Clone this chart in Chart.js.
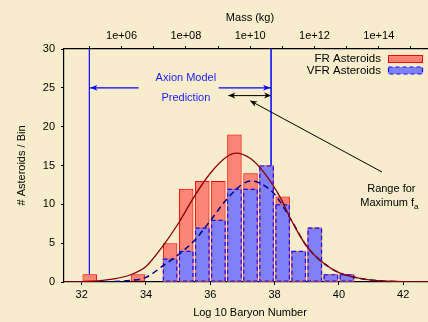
<!DOCTYPE html>
<html>
<head>
<meta charset="utf-8">
<script src="https://cdn.jsdelivr.net/npm/chart.js@4.4.0/dist/chart.umd.min.js"></script>
<style>
  html, body { margin: 0; padding: 0; background: #f7edcc; }
  #wrap { width: 428px; height: 322px; }
</style>
</head>
<body>
<div id="wrap"><canvas id="chart" width="428" height="322"></canvas></div>
<script>
// Histogram, bins of 0.5 in Log10 baryon number (left edges)
const binEdges = [32, 32.5, 33, 33.5, 34, 34.5, 35, 35.5, 36, 36.5, 37, 37.5, 38, 38.5, 39, 39.5, 40];
const frCounts = [1, 0, 0, 1, 0, 5, 12, 13, 13, 19, 14, 15, 11, 4, 7, 1, 1];
const vfrCounts = [0, 0, 0, 0, 0, 3, 4, 7, 8, 12, 12, 15, 10, 4, 7, 1, 1];

// Fitted curves
const frFitX = [31.45, 32, 32.5, 33, 33.5, 34, 34.5, 35, 35.5, 36, 36.5, 36.8, 37.25, 37.65, 38.2, 38.5, 39, 39.5, 40, 40.5, 41, 41.5, 42, 42.77];
const frFitY = [0, 0.05, 0.15, 0.4, 0.9, 2.0, 4.5, 7.5, 11.0, 14.0, 16.1, 16.6, 15.9, 14.2, 10.7, 8.1, 4.6, 2.5, 1.2, 0.6, 0.25, 0.1, 0.03, 0];
const vfrFitX = [31.45, 32, 32.5, 33, 33.5, 34, 34.5, 35, 35.5, 36, 36.5, 37, 37.25, 37.5, 38, 38.5, 39, 39.5, 40, 40.5, 41, 41.5, 42, 42.77];
const vfrFitY = [0, 0, 0.01, 0.05, 0.2, 0.6, 2.0, 3.5, 5.3, 7.9, 10.6, 12.6, 13.0, 12.8, 11.3, 8.1, 4.6, 2.5, 1.2, 0.6, 0.25, 0.1, 0.03, 0.01];

// Axion model prediction lines and annotations (data units)
const axionLinesX = [32.24, 37.89];
const axionLinesBottom = [1, 15];
const axionArrowY = 25;
const axionArrowStart = [33.77, 36.26];
const rangeArrowY = 24;
const rangeArrowX = [36.56, 37.89];
const pointerFrom = [41.34, 14.16];
const pointerTo = [37.24, 23.34];

// Axes
const xMin = 31.45, xMax = 42.77;
const massOffset = 27.24; // log10 mass(kg) = log10 N - offset
const yTicks = [0, 30, 5];

const labels = ['FR Asteroids', 'VFR Asteroids'];
const FONT = "'Liberation Sans', Arial, sans-serif";

const binWidth = 0.5;
const frData = binEdges.map((e, i) => ({ x: e + binWidth / 2, y: frCounts[i] }));
const vfrData = binEdges.map((e, i) => ({ x: e + binWidth / 2, y: vfrCounts[i] }));

function drawArrowHead(ctx, x1, y1, x2, y2, color) {
    // head at (x2, y2)
    const a = Math.atan2(y2 - y1, x2 - x1);
    const len = 7, w = 3;
    ctx.save();
    ctx.translate(x2, y2);
    ctx.rotate(a);
    ctx.fillStyle = color;
    ctx.beginPath();
    ctx.moveTo(0, 0);
    ctx.lineTo(-len, -w);
    ctx.lineTo(-len + 2, 0);
    ctx.lineTo(-len, w);
    ctx.closePath();
    ctx.fill();
    ctx.restore();
}

function line(ctx, x1, y1, x2, y2, color, width) {
    ctx.save();
    ctx.strokeStyle = color;
    ctx.lineWidth = width;
    ctx.beginPath();
    ctx.moveTo(x1, y1);
    ctx.lineTo(x2, y2);
    ctx.stroke();
    ctx.restore();
}

// dashed outline for the VFR bars (Chart.js bars have no dashed borders)
const dashedBars = {
    id: 'dashedBars',
    afterDatasetDraw(chart, args) {
        if (args.index !== 1) return;
        const ctx = chart.ctx;
        ctx.save();
        args.meta.data.forEach((el, i) => {
            if (!vfrCounts[i]) return;
            const p = el.getProps(['x', 'y', 'base', 'width'], true);
            const r = [p.x - p.width / 2 + 0.5, p.y + 0.5, p.width - 1, p.base - p.y - 1];
            // red outline of the FR bar underneath shows in the gaps
            ctx.setLineDash([]);
            ctx.strokeStyle = 'rgba(255, 90, 60, 0.8)';
            ctx.lineWidth = 1;
            ctx.strokeRect(r[0], r[1], r[2], r[3]);
            ctx.setLineDash([4, 3]);
            ctx.strokeStyle = '#1010ff';
            ctx.lineWidth = 1.2;
            ctx.strokeRect(r[0], r[1], r[2], r[3]);
        });
        ctx.restore();
    }
};

const annotations = {
    id: 'annotations',
    afterDraw(chart) {
        const ctx = chart.ctx;
        const sx = chart.scales.x, sy = chart.scales.y;
        const px = v => sx.getPixelForValue(v);
        const py = v => sy.getPixelForValue(v);

        // blue arrows towards the prediction lines
        const ay = py(axionArrowY);
        line(ctx, px(axionArrowStart[0]), ay, px(axionLinesX[0]), ay, '#0000ff', 1.2);
        drawArrowHead(ctx, px(axionArrowStart[0]), ay, px(axionLinesX[0]) + 1, ay, '#0000ff');
        line(ctx, px(axionArrowStart[1]), ay, px(axionLinesX[1]), ay, '#0000ff', 1.2);
        drawArrowHead(ctx, px(axionArrowStart[1]), ay, px(axionLinesX[1]) - 1, ay, '#0000ff');

        // black double arrow
        const ry = py(rangeArrowY);
        line(ctx, px(rangeArrowX[0]), ry, px(rangeArrowX[1]), ry, '#000', 1);
        drawArrowHead(ctx, px(rangeArrowX[1]), ry, px(rangeArrowX[0]), ry, '#000');
        drawArrowHead(ctx, px(rangeArrowX[0]), ry, px(rangeArrowX[1]), ry, '#000');

        // pointer line
        const fx = px(pointerFrom[0]), fy = py(pointerFrom[1]);
        const tx = px(pointerTo[0]), ty = py(pointerTo[1]);
        line(ctx, fx, fy, tx, ty, '#000', 1);
        drawArrowHead(ctx, fx, fy, tx, ty, '#000');

        ctx.save();
        ctx.font = '11px ' + FONT;
        ctx.textAlign = 'center';
        ctx.textBaseline = 'middle';
        ctx.fillStyle = '#1a1aff';
        ctx.fillText('Axion Model', px(35.24), py(26.27));
        ctx.fillText('Prediction', px(35.24), py(23.69));

        ctx.fillStyle = '#000';
        ctx.fillText('Range for', px(41.63), py(11.96));
        const t2 = 'Maximum f';
        const w2 = ctx.measureText(t2).width;
        ctx.font = '8px ' + FONT;
        const wa = ctx.measureText('a').width;
        const cx = px(41.57) - (w2 + wa) / 2, cy = py(10.13);
        ctx.textAlign = 'left';
        ctx.font = '11px ' + FONT;
        ctx.fillText(t2, cx, cy);
        ctx.font = '8px ' + FONT;
        ctx.fillText('a', cx + w2, cy + 3);

        // axis titles
        ctx.font = '11px ' + FONT;
        ctx.textAlign = 'center';
        ctx.fillText('Mass (kg)', 250, 18);
        ctx.fillText('Log 10 Baryon Number', 250, 313);
        ctx.save();
        ctx.translate(22, (chart.chartArea.top + chart.chartArea.bottom) / 2);
        ctx.rotate(-Math.PI / 2);
        ctx.fillText('# Asteroids / Bin', 0, 0);
        ctx.restore();

        // legend
        ctx.textAlign = 'right';
        ctx.font = '11.5px ' + FONT;
        ctx.fillText(labels[0], 381, 59);
        ctx.fillText(labels[1], 381, 70.5);
        ctx.fillStyle = 'rgba(255, 60, 60, 0.6)';
        ctx.fillRect(388, 55.5, 35, 7);
        ctx.strokeStyle = '#ff0000';
        ctx.lineWidth = 1;
        ctx.strokeRect(388.5, 55.5, 34, 7);
        ctx.fillStyle = '#8080f8';
        ctx.fillRect(388, 67, 35, 7);
        ctx.strokeStyle = '#1010ff';
        ctx.lineWidth = 1.2;
        ctx.setLineDash([4, 3]);
        ctx.strokeRect(388.5, 67, 34, 7);
        ctx.restore();
    }
};

const tickFont = { family: FONT, size: 11 };

new Chart(document.getElementById('chart'), {
    type: 'bar',
    data: {
        datasets: [
            {
                label: labels[0],
                data: frData,
                backgroundColor: 'rgba(255, 50, 50, 0.55)',
                borderColor: '#ff0000',
                borderWidth: 1,
                borderSkipped: false,
                grouped: false,
                barPercentage: 1,
                categoryPercentage: 0.9,
                order: 3
            },
            {
                label: labels[1],
                data: vfrData,
                backgroundColor: '#8080f8',
                borderWidth: 0,
                grouped: false,
                barPercentage: 1,
                categoryPercentage: 0.9,
                order: 2
            },
            {
                type: 'line',
                data: frFitX.map((x, i) => ({ x: x, y: frFitY[i] })),
                borderColor: '#8b0000',
                borderWidth: 1.3,
                pointRadius: 0,
                cubicInterpolationMode: 'monotone',
                order: 1
            },
            {
                type: 'line',
                data: vfrFitX.map((x, i) => ({ x: x, y: vfrFitY[i] })),
                borderColor: '#00008b',
                borderWidth: 1.5,
                borderDash: [6, 4],
                pointRadius: 0,
                cubicInterpolationMode: 'monotone',
                order: 1
            },
            {
                type: 'line',
                data: [{ x: axionLinesX[0], y: yTicks[1] }, { x: axionLinesX[0], y: axionLinesBottom[0] }],
                borderColor: '#1515ff',
                borderWidth: 0.9,
                pointRadius: 0,
                order: 0
            },
            {
                type: 'line',
                data: [{ x: axionLinesX[1], y: yTicks[1] }, { x: axionLinesX[1], y: axionLinesBottom[1] }],
                borderColor: '#1515ff',
                borderWidth: 0.9,
                pointRadius: 0,
                order: 0
            }
        ]
    },
    options: {
        responsive: false,
        animation: false,
        devicePixelRatio: 1,
        layout: { padding: 0 },
        scales: {
            x: {
                type: 'linear',
                position: 'bottom',
                offset: false,
                min: xMin,
                max: xMax,
                afterFit: s => { s.height = 40; },
                ticks: { stepSize: 2, includeBounds: false, color: '#000', font: tickFont, padding: 3 },
                grid: { offset: false, drawOnChartArea: false, tickLength: 3, color: '#000' },
                border: { display: true, color: '#000', width: 1.2 }
            },
            x2: {
                type: 'linear',
                position: 'top',
                offset: false,
                min: xMin - massOffset,
                max: xMax - massOffset,
                afterFit: s => { s.height = 49; },
                ticks: {
                    stepSize: 1,
                    includeBounds: false,
                    color: '#000',
                    font: tickFont,
                    padding: 3,
                    autoSkip: false,
                    maxRotation: 0,
                    callback: v => (Math.round(v) % 2 === 0) ? '1e+' + String(Math.round(v)).padStart(2, '0') : ''
                },
                grid: { offset: false, drawOnChartArea: false, tickLength: 3, color: '#000' },
                border: { display: true, color: '#000', width: 1.2 }
            },
            y: {
                min: yTicks[0],
                max: yTicks[1],
                afterFit: s => { s.width = 64; },
                ticks: { stepSize: yTicks[2], color: '#000', font: tickFont, padding: 6 },
                grid: { drawOnChartArea: false, tickLength: 3, color: '#000' },
                border: { display: true, color: '#000', width: 1.2 }
            }
        },
        plugins: {
            legend: { display: false },
            tooltip: { enabled: false }
        }
    },
    plugins: [dashedBars, annotations]
});
</script>
</body>
</html>
